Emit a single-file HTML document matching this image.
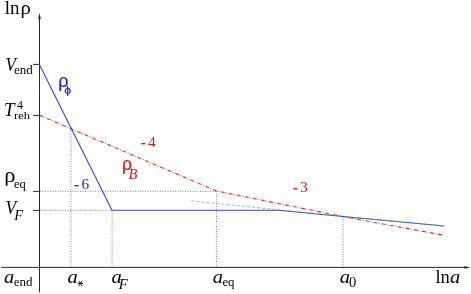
<!DOCTYPE html>
<html><head><meta charset="utf-8">
<style>
html,body{margin:0;padding:0;background:#fff;}
body{width:471px;height:294px;overflow:hidden;}
svg{display:block;}
text{font-family:"Liberation Serif",serif;fill:#000;}
.i{font-style:italic;}
.s{font-family:"Liberation Sans",sans-serif;}
.b{fill:#2222cc;}
.r{fill:#d01818;}
</style></head><body>
<svg width="471" height="294" viewBox="0 0 471 294">
<rect width="471" height="294" fill="#fff"/>
<defs><clipPath id="c8"><rect x="0" y="-20" width="20" height="23.6"/></clipPath></defs>
<!-- dotted guides -->
<g stroke="#808080" stroke-width="1" stroke-dasharray="1 1.5" fill="none">
<line x1="40" y1="191.3" x2="216.4" y2="191.3"/>
<line x1="40" y1="210.3" x2="112" y2="210.3"/>
<line x1="70.9" y1="128.6" x2="70.9" y2="267"/>
<line x1="112.1" y1="210.3" x2="112.1" y2="267"/>
<line x1="216.4" y1="191" x2="216.4" y2="267"/>
<line x1="343" y1="216.4" x2="343" y2="267"/>
</g>
<!-- axes -->
<g stroke="#2a2a2a" stroke-width="1" fill="none">
<line x1="39.5" y1="18" x2="39.5" y2="292.4"/>
<line x1="1.3" y1="267.4" x2="465.5" y2="267.4"/>
<line x1="33.1" y1="64.4" x2="39.5" y2="64.4"/>
<line x1="33.1" y1="115.4" x2="39.5" y2="115.4"/>
<line x1="33.1" y1="191.4" x2="39.5" y2="191.4"/>
<line x1="33.1" y1="210.4" x2="39.5" y2="210.4"/>
</g>
<polygon points="39.5,13 38.1,19 40.9,19" fill="#2a2a2a"/>
<polygon points="470.4,267.4 464.4,266 464.4,268.8" fill="#2a2a2a"/>
<!-- red dash-dot -->
<polyline points="39.5,115.3 216.4,190.9 343,216.6 443.8,235.2" fill="none" stroke="#e03434" stroke-width="1.15" stroke-dasharray="4 1.7 0.8 1.7"/>
<!-- blue -->
<polyline points="39.4,64.4 112,210.3 279,210.3 343,216.5 444.3,226" fill="none" stroke="#4040dc" stroke-width="1.1" stroke-linejoin="round"/>
<!-- green dashed -->
<polyline points="191,200.8 279,209.9 343,216.4 444.3,226" fill="none" stroke="#5cb05c" stroke-width="0.9" stroke-dasharray="3.2 1.9" opacity="0.75"/>
<!-- labels -->
<g opacity="0.999">
<text id="t1" x="4.7" y="13.8" font-size="19">ln</text>
<text id="t2" transform="translate(20.4 13.8) scale(1.06 1)" font-size="19.5">ρ</text>
<text id="t3" transform="translate(5.6 71) scale(0.9 1)" font-size="19" class="i">V</text>
<text id="t4" x="13.9" y="73.8" font-size="13">end</text>
<text id="t5" transform="translate(4.1 115.5) scale(1.02 0.97)" font-size="18.5" class="i">T</text>
<text id="t6" x="17" y="108.7" font-size="12">4</text>
<text id="t7" transform="translate(14 118.6) scale(1 0.9)" font-size="12.5">reh</text>
<text id="t8" transform="translate(4.3 182.2) scale(1.07 1)" font-size="21" clip-path="url(#c8)">ρ</text>
<text id="t9" x="14" y="188.1" font-size="12.5">eq</text>
<text id="t10" transform="translate(5.6 213.8) scale(0.9 1)" font-size="19.5" class="i">V</text>
<text id="t11" x="14.2" y="219.7" font-size="14.5" class="i">F</text>
<text id="t12" transform="translate(4.0 283.3) scale(1.08 1)" font-size="19" class="i">a</text>
<text id="t13" x="13.7" y="286.4" font-size="13">end</text>
<text id="t14" transform="translate(67.4 283.3) scale(1.08 1)" font-size="19" class="i">a</text>
<g id="t15" stroke="#111" stroke-width="0.95" stroke-linecap="round" fill="none"><line x1="78" y1="283.4" x2="82.7" y2="283.4"/><line x1="79" y1="281.2" x2="81.7" y2="285.6"/><line x1="81.7" y1="281.2" x2="79" y2="285.6"/></g>
<text id="t16" transform="translate(111.6 283.3) scale(1.08 1)" font-size="19" class="i">a</text>
<text id="t17" x="118.8" y="289.3" font-size="14.5" class="i">F</text>
<text id="t18" transform="translate(212.8 283.3) scale(1.08 1)" font-size="19" class="i">a</text>
<text id="t19" x="222.4" y="286.3" font-size="12.8">eq</text>
<text id="t20" transform="translate(339.7 283.3) scale(1.08 1)" font-size="19" class="i">a</text>
<text id="t21" x="348.9" y="286.8" font-size="14.5">0</text>
<text id="t22" x="435.4" y="283" font-size="18.5">ln</text>
<text id="t23" transform="translate(450.1 283.3) scale(1.08 1)" font-size="19" class="i">a</text>
<text id="t24" transform="translate(58.3 86.8) scale(0.95 1)" font-size="19" class="s b" stroke="#2222cc" stroke-width="0.15">ρ</text>
<text id="t25" transform="translate(64.2 94.1) scale(1.1 1)" font-size="11.2" class="s b" stroke="#2222cc" stroke-width="0.2">ϕ</text>
<text id="t26" transform="translate(121.9 169.8) scale(0.93 1)" font-size="19" class="s r" stroke="#d01818" stroke-width="0.15">ρ</text>
<text id="t27" x="128.4" y="178.7" font-size="14.5" class="i r">B</text>
<text id="t28" x="74.2" y="188.9" font-size="14" class="b" stroke="#2222cc" stroke-width="0.3">-</text>
<text id="t29" transform="translate(81.6 188.5) scale(1.1 1)" font-size="14" class="b">6</text>
<text id="t30" x="141.1" y="147.1" font-size="14" class="r" stroke="#d01818" stroke-width="0.3">-</text>
<text id="t31" transform="translate(148.1 146.8) scale(1.1 1)" font-size="14" class="r">4</text>
<text id="t32" x="292.9" y="192.1" font-size="14" class="r" stroke="#d01818" stroke-width="0.3">-</text>
<text id="t33" transform="translate(300.3 191.8) scale(1.06 1)" font-size="14" class="r">3</text>
</g>
</svg>
</body></html>
